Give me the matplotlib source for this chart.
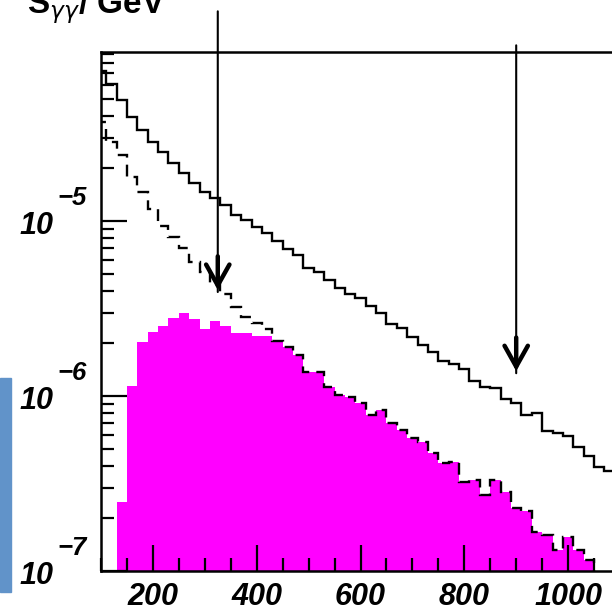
import matplotlib
matplotlib.use("Agg")
import matplotlib.pyplot as plt
from matplotlib.patches import Rectangle
from matplotlib.ticker import FixedLocator, LogLocator, MultipleLocator, FuncFormatter, NullFormatter
from matplotlib.transforms import offset_copy
import numpy as np

# 20 GeV bins, mass axis in GeV
# upper solid histogram, bins 90-110 ... 1070-1090
total = [7.24e-5, 6.07e-5, 4.89e-5, 3.94e-5, 3.31e-5, 2.82e-5, 2.47e-5, 2.14e-5,
         1.88e-5, 1.66e-5, 1.47e-5, 1.36e-5, 1.23e-5, 1.08e-5, 1.01e-5, 9.27e-6,
         8.53e-6, 7.69e-6, 6.89e-6, 6.40e-6, 5.37e-6, 5.13e-6, 4.60e-6, 4.12e-6,
         3.83e-6, 3.61e-6, 3.27e-6, 2.97e-6, 2.58e-6, 2.44e-6, 2.18e-6, 1.95e-6,
         1.78e-6, 1.58e-6, 1.52e-6, 1.42e-6, 1.22e-6, 1.12e-6, 1.11e-6, 9.57e-7,
         9.16e-7, 7.78e-7, 7.96e-7, 6.31e-7, 6.12e-7, 5.90e-7, 5.12e-7, 4.54e-7,
         3.92e-7, 3.75e-7]

# dashed histogram, bins 90-110 ... 410-430 (above that it sits on the signal)
dashed_low = [3.69e-5, 2.82e-5, 2.38e-5, 1.79e-5, 1.47e-5, 1.17e-5, 9.40e-6, 8.13e-6,
              6.98e-6, 5.85e-6, 5.12e-6, 4.43e-6, 3.83e-6, 3.23e-6, 2.82e-6, 2.61e-6,
              2.42e-6]

# magenta filled histogram, bins 130-150 ... 1030-1050
signal = [2.47e-7, 1.14e-6, 2.03e-6, 2.33e-6, 2.51e-6, 2.78e-6, 2.97e-6, 2.75e-6,
          2.42e-6, 2.68e-6, 2.51e-6, 2.28e-6, 2.28e-6, 2.20e-6, 2.20e-6, 2.07e-6,
          1.91e-6, 1.71e-6, 1.38e-6, 1.38e-6, 1.13e-6, 1.01e-6, 9.86e-7, 9.08e-7,
          7.78e-7, 8.32e-7, 6.98e-7, 6.39e-7, 5.73e-7, 5.48e-7, 4.71e-7, 4.12e-7,
          4.18e-7, 3.24e-7, 3.31e-7, 2.72e-7, 3.31e-7, 2.84e-7, 2.28e-7, 2.21e-7,
          1.68e-7, 1.61e-7, 1.31e-7, 1.56e-7, 1.32e-7, 1.16e-7]

BIN = 20
y_ticks = [1e-7, 1e-6, 1e-5]
x_ticks = [200, 400, 600, 800, 1000]
arrow_x = [325, 900]
arrow_tip = [3.93e-6, 1.35e-6]
arrow_top = [1.58e-4, 1.01e-4]

FONT = dict(fontfamily='Liberation Sans', fontweight='bold', fontstyle='italic')


def main():
    edges_all = 90 + BIN * np.arange(len(total) + 1)
    edges_sig = 130 + BIN * np.arange(len(signal) + 1)
    dashed = dashed_low + signal[(430 - 130) // BIN:]
    edges_dash = 90 + BIN * np.arange(len(dashed) + 1)

    fig = plt.figure(figsize=(6.12, 6.14), dpi=100)
    ax = fig.add_axes([101 / 612, 1 - 571 / 614, 519 / 612, 519 / 614])

    ax.stairs(signal, edges_sig, fill=True, color='#ff00ff', baseline=1e-9, zorder=1)
    ax.stairs(dashed, edges_dash, color='k', lw=1.7, baseline=1e-9,
              linestyle=(0, (5, 3)), zorder=2)
    ax.stairs(total, edges_all, color='k', lw=1.7, baseline=None, zorder=3)

    ax.set_yscale('log')
    ax.set_xlim(100, 1100)
    ax.set_ylim(1e-7, 9.25e-5)

    ax.xaxis.set_major_locator(FixedLocator(x_ticks))
    ax.xaxis.set_minor_locator(MultipleLocator(50))
    ax.yaxis.set_major_locator(FixedLocator(y_ticks))
    ax.yaxis.set_minor_locator(LogLocator(base=10, subs=np.arange(2, 10)))
    ax.yaxis.set_minor_formatter(NullFormatter())
    ax.yaxis.set_major_formatter(NullFormatter())
    ax.xaxis.set_major_formatter(FuncFormatter(lambda v, p: '%d' % v))

    ax.tick_params(which='both', direction='in', top=False, right=False, width=1.6)
    ax.tick_params(which='major', length=19)
    ax.tick_params(which='minor', length=9.5)
    ax.tick_params(axis='x', which='major', pad=8)
    for lab in ax.get_xticklabels():
        lab.set(fontsize=22, **FONT)

    # y labels: "10" with a big raised exponent, like the original
    ytrans = ax.get_yaxis_transform()
    base_tr = offset_copy(ytrans, fig=fig, y=-13 * 0.72, units='points')
    exp_tr = offset_copy(ytrans, fig=fig, y=16 * 0.72, units='points')
    for v in y_ticks:
        ax.text((53 - 101) / 519, v, '10', transform=base_tr, ha='right',
                va='baseline', fontsize=22, clip_on=False, **FONT)
        ax.text((57 - 101) / 519, v, '\u2212%d' % int(round(-np.log10(v))),
                transform=exp_tr, ha='left', va='baseline', fontsize=18.5,
                clip_on=False, **FONT)

    for s in ['left', 'bottom', 'top']:
        ax.spines[s].set_linewidth(1.8)
    ax.spines['right'].set_visible(False)

    for x, tip, top in zip(arrow_x, arrow_tip, arrow_top):
        ax.annotate('', xy=(x, tip), xytext=(x, top), annotation_clip=False,
                    arrowprops=dict(arrowstyle='-', lw=1.5, color='k',
                                    shrinkA=0, shrinkB=0))
        ax.annotate('', xy=(x, tip), xytext=(x, tip * 1.6), annotation_clip=False,
                    arrowprops=dict(arrowstyle='->, head_length=0.75, head_width=0.42',
                                    lw=3.2, color='k', shrinkA=0, shrinkB=1.5,
                                    mutation_scale=20, joinstyle='miter'))

    fig.text(27 / 612, 1 - 13 / 614, r'S$_{\gamma\gamma}$/ GeV', va='baseline', ha='left',
             fontsize=24, fontfamily='Liberation Sans', fontweight='bold')

    fig.add_artist(Rectangle((0, 1 - 592 / 614), 11 / 612, 214 / 614,
                             transform=fig.transFigure, color='#6193c9'))

    fig.savefig('out.png', dpi=100)


if __name__ == "__main__":
    main()
